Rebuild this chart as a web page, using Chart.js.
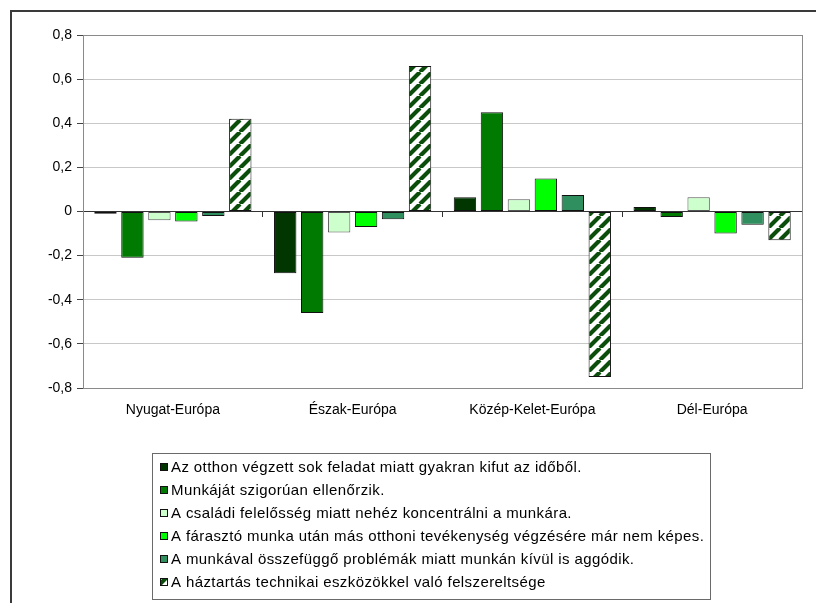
<!DOCTYPE html>
<html lang="hu">
<head>
<meta charset="utf-8">
<title>Régiók</title>
<script src="https://cdn.jsdelivr.net/npm/chart.js@4.4.1/dist/chart.umd.min.js"></script>
<style>
  html, body { margin: 0; padding: 0; background: #fff; }
  #wrap { width: 816px; height: 603px; position: relative; }
</style>
</head>
<body>
<div id="wrap"><canvas id="chart" width="816" height="603"></canvas></div>
<script>
// 1. ADATOK
const categories = ['Nyugat-Európa', 'Észak-Európa', 'Közép-Kelet-Európa', 'Dél-Európa'];

const seriesLabels = [
    'Az otthon végzett sok feladat miatt gyakran kifut az időből.',
    'Munkáját szigorúan ellenőrzik.',
    'A családi felelősség miatt nehéz koncentrálni a munkára.',
    'A fárasztó munka után más otthoni tevékenység végzésére már nem képes.',
    'A munkával összefüggő problémák miatt munkán kívül is aggódik.',
    'A háztartás technikai eszközökkel való felszereltsége'
];

const idoHiany          = [-0.01, -0.28, 0.065, 0.02];
const ellenorzes        = [-0.21, -0.46, 0.45, -0.025];
const csaladiTeher      = [-0.04, -0.095, 0.055, 0.065];
const faradtsag         = [-0.045, -0.07, 0.15, -0.10];
const aggodas           = [-0.02, -0.035, 0.075, -0.06];
const felszereltseg     = [0.42, 0.66, -0.75, -0.13];

const yMin = -0.8, yMax = 0.8, yStep = 0.2;

// 2. CSÍKOS MINTA (utolsó sorozat)
function csikosMinta() {
    const s = 12;
    const c = document.createElement('canvas');
    c.width = s; c.height = s;
    const g = c.getContext('2d');
    g.fillStyle = '#ffffff';
    g.fillRect(0, 0, s, s);
    g.strokeStyle = '#0b4d0b';
    g.lineWidth = 4.2;
    g.beginPath();
    [-s, 0, s].forEach(o => { g.moveTo(o, s); g.lineTo(o + s, 0); });
    g.stroke();
    return g.createPattern(c, 'repeat');
}
const minta = csikosMinta();

const fills = ['#013601', '#007a00', '#ccffcc', '#00ff00', '#2f8f5f', minta];
const values = [idoHiany, ellenorzes, csaladiTeher, faradtsag, aggodas, felszereltseg];

const FONT = "Arial, 'Liberation Sans', sans-serif";

// 3. KERET + JELMAGYARÁZAT (saját rajzolás)
const keretPlugin = {
    id: 'keret',
    beforeDatasetsDraw(chart) {
        const { ctx, chartArea: a } = chart;
        ctx.save();
        ctx.strokeStyle = '#8a8a8a';
        ctx.lineWidth = 1;
        ctx.strokeRect(Math.round(a.left) + 0.5, Math.round(a.top) + 0.5,
                       Math.round(a.right - a.left), Math.round(a.bottom - a.top));
        ctx.restore();
    },
    afterDraw(chart) {
        const { ctx } = chart;
        ctx.save();
        // külső keret
        ctx.strokeStyle = '#3a3a3a';
        ctx.lineWidth = 2;
        ctx.beginPath();
        ctx.moveTo(11, 603); ctx.lineTo(11, 11); ctx.lineTo(816, 11);
        ctx.stroke();

        // jelmagyarázat doboz
        const bx = 152, by = 453, bw = 558, bh = 146;
        ctx.strokeStyle = '#6a6a6a';
        ctx.lineWidth = 1;
        ctx.strokeRect(bx + 0.5, by + 0.5, bw, bh);

        ctx.font = '15px ' + FONT;
        ctx.letterSpacing = '0.4px';
        ctx.textBaseline = 'middle';
        chart.data.datasets.forEach((ds, i) => {
            const y = by + 14 + i * 23;
            ctx.fillStyle = ds.backgroundColor;
            ctx.fillRect(160, y - 4, 8, 8);
            ctx.strokeStyle = '#111';
            ctx.strokeRect(160.5, y - 3.5, 7, 7);
            ctx.fillStyle = '#000';
            ctx.fillText(ds.label, 171, y + 1);
        });
        ctx.restore();
    }
};

// 4. DIAGRAM
const canvas = document.getElementById('chart');
canvas.getContext('2d').letterSpacing = '0.5px'; // szélesebb betűköz a tengelyfeliratokon

new Chart(canvas, {
    type: 'bar',
    data: {
        labels: categories,
        datasets: values.map((v, i) => ({
            label: seriesLabels[i],
            data: v,
            backgroundColor: fills[i],
            borderColor: i === 2 ? '#555' : '#111',
            borderWidth: 1,
            borderSkipped: false,
            categoryPercentage: 0.9,
            barPercentage: 0.83
        }))
    },
    options: {
        responsive: false,
        animation: false,
        layout: { padding: { left: 0, top: 35, right: 14, bottom: 185 } },
        plugins: { legend: { display: false }, tooltip: { enabled: false } },
        scales: {
            y: {
                min: yMin, max: yMax,
                afterFit: s => { s.width = 83; },
                ticks: {
                    stepSize: yStep,
                    padding: 5,
                    color: '#000',
                    font: { family: FONT, size: 14 },
                    callback: v => Math.abs(v) < 1e-9 ? '0' : v.toFixed(1).replace('.', ',')
                },
                grid: {
                    color: c => (c.tick.value === yMin || c.tick.value === yMax) ? '#8a8a8a' : '#c8c8c8',
                    tickColor: '#444',
                    tickLength: 6
                },
                border: { color: '#444', width: 1 }
            },
            x: {
                afterFit: s => { s.height = 30; },
                grid: { display: false, drawTicks: false },
                border: { display: false },
                ticks: { padding: 14, color: '#000', font: { family: FONT, size: 14 } }
            },
            // nullvonal a kategóriahatár-jelekkel
            x0: {
                type: 'category',
                axis: 'x',
                labels: categories,
                position: { y: 0 },
                grid: { offset: true, drawOnChartArea: false, tickLength: 5, tickColor: '#333' },
                ticks: { display: false },
                border: { color: '#333', width: 1 }
            }
        }
    },
    plugins: [keretPlugin]
});
</script>
</body>
</html>
